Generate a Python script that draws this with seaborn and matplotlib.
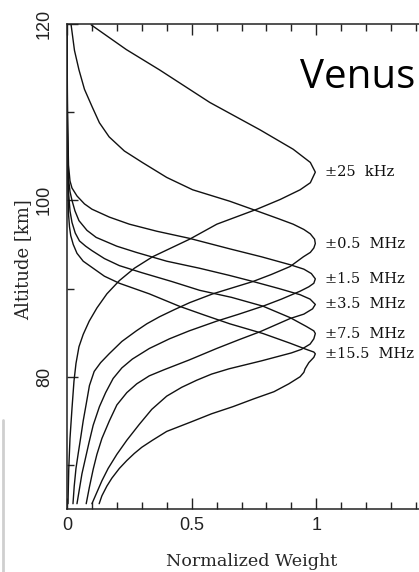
import numpy as np
import pandas as pd
import matplotlib
matplotlib.use("Agg")
import matplotlib.pyplot as plt
import seaborn as sns
from matplotlib.ticker import FixedLocator, MultipleLocator
from matplotlib.lines import Line2D

# ---- data ----
labels = ["±25 kHz", "±0.5 MHz", "±1.5 MHz", "±3.5 MHz", "±7.5 MHz", "±15.5 MHz"]

w_25k = [0.097, 0.238, 0.371, 0.573, 0.774, 0.907, 0.976, 0.996, 0.976, 0.935, 0.855, 0.762,
         0.601, 0.492, 0.343, 0.27, 0.21, 0.16, 0.12, 0.089, 0.065, 0.048, 0.036, 0.028,
         0.020, 0.012, 0.007, 0.004]
a_25k = [119.9, 117.1, 114.8, 111.1, 108.0, 105.8, 104.3, 103.2, 102.0, 101.2, 100.1, 99.0,
         97.3, 95.6, 93.6, 92.3, 90.9, 89.4, 87.8, 86.3, 84.8, 83.4, 81.5, 79.5,
         76.4, 73.0, 69.5, 65.6]

w_05 = [0.016, 0.03, 0.048, 0.07, 0.101, 0.13, 0.169, 0.23, 0.302, 0.40, 0.504, 0.653, 0.762, 0.85,
        0.907, 0.95, 0.976, 0.993, 0.996,
        0.99, 0.976, 0.948, 0.895, 0.82, 0.746, 0.585, 0.492, 0.43, 0.371, 0.32, 0.278, 0.22, 0.169,
        0.135, 0.109, 0.09, 0.077, 0.065, 0.056, 0.045, 0.036, 0.029, 0.024]
a_05 = [120.0, 117.0, 114.8, 112.6, 110.6, 108.8, 107.2, 105.6, 104.3, 102.6, 101.2, 99.9, 98.8, 97.9,
        97.3, 96.7, 96.2, 95.6, 95.1,
        94.6, 94.1, 93.6, 92.5, 91.6, 90.8, 89.4, 88.4, 87.6, 86.8, 86.0, 85.2, 84.0, 82.6,
        81.6, 80.6, 79.0, 76.9, 75.0, 73.3, 71.3, 69.6, 67.6, 65.6]

w_15 = [0.0, 0.002, 0.006, 0.012, 0.02, 0.04, 0.07, 0.10, 0.17, 0.25, 0.36, 0.49, 0.653, 0.78, 0.895,
        0.95, 0.98, 0.996,
        0.99, 0.97, 0.935, 0.86, 0.786, 0.69, 0.60, 0.49, 0.411, 0.33, 0.262, 0.22, 0.185, 0.155,
        0.13, 0.105, 0.088, 0.072, 0.06, 0.05, 0.04]
a_15 = [120.0, 110.0, 104.0, 102.2, 101.4, 100.5, 99.6, 99.0, 98.1, 97.3, 96.5, 95.7, 94.5, 93.6, 92.7,
        92.2, 91.7, 91.1,
        90.6, 90.2, 89.7, 88.8, 88.0, 87.1, 86.3, 85.2, 84.3, 83.2, 82.0, 81.0, 79.8, 78.2,
        76.6, 74.5, 72.5, 70.5, 69.0, 67.3, 65.6]

w_35 = [0.0, 0.002, 0.006, 0.012, 0.02, 0.032, 0.048, 0.08, 0.117, 0.20, 0.278, 0.40, 0.532, 0.65,
        0.746, 0.85, 0.935, 0.975, 0.996,
        0.985, 0.95, 0.895, 0.774, 0.69, 0.60, 0.49, 0.39, 0.33, 0.28, 0.24, 0.20, 0.17, 0.14, 0.12,
        0.105, 0.09, 0.077]
a_35 = [120.0, 108.0, 102.5, 101.0, 100.0, 98.8, 97.7, 96.6, 95.8, 94.8, 94.1, 93.1, 92.3, 91.5,
        90.8, 90.0, 89.3, 88.8, 88.2,
        87.7, 87.1, 86.6, 85.1, 84.2, 83.2, 81.9, 80.8, 80.1, 79.2, 78.2, 76.8, 75.0, 73.0, 71.2,
        69.5, 67.5, 65.6]

w_75 = [0.0, 0.002, 0.006, 0.012, 0.02, 0.033, 0.05, 0.075, 0.10, 0.15, 0.21, 0.30, 0.42, 0.532, 0.66,
        0.786, 0.895, 0.96, 0.99, 0.996,
        0.99, 0.975, 0.94, 0.90, 0.78, 0.65, 0.58, 0.52, 0.46, 0.40, 0.34, 0.29, 0.24, 0.20, 0.165,
        0.14, 0.12, 0.10]
a_75 = [120.0, 106.0, 101.0, 98.8, 97.5, 96.3, 95.4, 94.8, 94.3, 93.4, 92.6, 91.8, 90.8, 89.8, 89.0,
        88.0, 86.7, 85.7, 85.2, 84.9,
        84.3, 83.7, 83.1, 82.7, 81.8, 80.9, 80.3, 79.6, 78.8, 77.8, 76.3, 74.6, 72.8, 71.2, 69.6,
        68.2, 66.9, 65.6]

w_155 = [0.0, 0.002, 0.006, 0.01, 0.015, 0.025, 0.04, 0.065, 0.10, 0.15, 0.21, 0.33, 0.45, 0.55, 0.653,
         0.786, 0.895, 0.96, 0.99, 0.996,
         0.99, 0.97, 0.955, 0.95, 0.935, 0.89, 0.83, 0.75, 0.665, 0.58, 0.50, 0.40, 0.343, 0.30, 0.27,
         0.24, 0.21, 0.18, 0.16, 0.14, 0.129]
a_155 = [120.0, 104.0, 98.5, 97.0, 96.0, 95.0, 94.0, 93.1, 92.4, 91.4, 90.6, 89.4, 88.0, 87.0, 86.0,
         84.9, 83.8, 83.1, 82.8, 82.6,
         82.2, 81.6, 80.9, 80.5, 80.0, 79.2, 78.3, 77.5, 76.6, 75.8, 74.9, 73.8, 72.8, 72.0, 71.3,
         70.5, 69.6, 68.5, 67.6, 66.5, 65.6]

weights = [w_25k, w_05, w_15, w_35, w_75, w_155]
alts = [a_25k, a_05, a_15, a_35, a_75, a_155]

x_ticks_major = [0, 0.5, 1]
x_ticklabels = ["0", "0.5", "1"]
y_ticks_major = [80, 100, 120]
y_ticklabels = ["80", "100", "120"]

# ---- build long table ----
frames = []
for lab, w, a in zip(labels, weights, alts):
    frames.append(pd.DataFrame({"weight": w, "altitude": a, "band": lab,
                                "order": np.arange(len(w))}))
df = pd.concat(frames, ignore_index=True)

# ---- figure ----
sns.set_style("ticks")
W, H = 419, 572
fig = plt.figure(figsize=(W / 100, H / 100), dpi=100)
x0_px, x1_px = 67, 436
y_top, y_bot = 24, 509
ax = fig.add_axes([x0_px / W, 1 - y_bot / H, (x1_px - x0_px) / W, (y_bot - y_top) / H])

sns.lineplot(data=df, x="weight", y="altitude", units="band", estimator=None,
             sort=False, color="#111111", linewidth=1.0, ax=ax, legend=False)

ax.set_xlim(0, 1.48)
ax.set_ylim(65, 120)

for side in ["left", "bottom", "top"]:
    ax.spines[side].set_visible(True)
    ax.spines[side].set_linewidth(1.1)
    ax.spines[side].set_color("#222222")
ax.spines["right"].set_visible(False)

ax.xaxis.set_major_locator(FixedLocator(x_ticks_major))
ax.set_xticklabels(x_ticklabels)
ax.xaxis.set_minor_locator(MultipleLocator(0.1))
ax.yaxis.set_major_locator(FixedLocator(y_ticks_major))
ax.set_yticklabels(y_ticklabels, rotation=90, va="center")
ax.yaxis.set_minor_locator(MultipleLocator(10))

ax.tick_params(axis="both", which="major", direction="in", length=8, width=1.0,
               colors="#222222", labelsize=13, top=True)
ax.tick_params(axis="both", which="minor", direction="in", length=5, width=1.0,
               colors="#222222", top=True)
ax.tick_params(axis="x", which="major", pad=6)
ax.tick_params(axis="y", which="major", pad=10)
for t in ax.get_xticklabels() + ax.get_yticklabels():
    t.set_family("Liberation Sans")

ax.set_xlabel("Normalized Weight", family="DejaVu Serif", fontsize=12.6)
ax.set_ylabel("Altitude [km]", family="DejaVu Serif", fontsize=13)
ax.xaxis.set_label_coords((252 - x0_px) / (x1_px - x0_px), (y_bot - 553) / (y_bot - y_top))
ax.yaxis.set_label_coords((32 - x0_px) / (x1_px - x0_px), (y_bot - 260) / (y_bot - y_top))

# band labels next to each curve's peak
for lab, w, a in zip(labels, weights, alts):
    i = int(np.argmax(w))
    ax.text(1.036, a[i], lab.replace(" ", "  "), family="DejaVu Serif", fontsize=10.5,
            va="center", ha="left", color="#111111")

fig.text(300 / W, 1 - 88 / H, "Venus", family="Open Sans", fontsize=29,
         va="baseline", ha="left", color="#000000")

fig.add_artist(Line2D([3 / W, 3 / W], [0, 1 - 420 / H], color="#cfcfcf", linewidth=2.0))

fig.savefig("out.png", dpi=100)
